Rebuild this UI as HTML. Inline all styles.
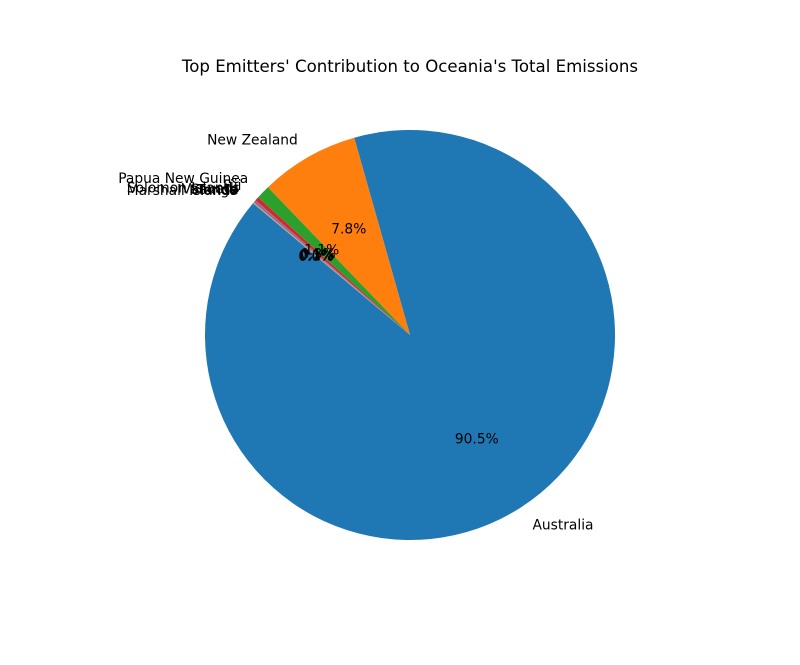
<!DOCTYPE html>
<html><head><meta charset="utf-8">
<style>
html,body{margin:0;padding:0;background:#fff;}
svg{display:block;font-family:"DejaVu Sans","Liberation Sans",sans-serif;}
</style></head>
<body>
<svg id="chart" width="800" height="665" viewBox="0 0 800 665">
<text x="410" y="72" text-anchor="middle" font-size="16.6">Top Emitters' Contribution to Oceania's Total Emissions</text>
<g id="wedges"></g>
<g id="labels"></g>
</svg>
<script>
const categories = ["Australia","New Zealand","Papua New Guinea","Fiji","Solomon Islands","Vanuatu","Samoa","Tonga","Marshall Islands"];
const values = [90.5, 7.8, 1.1, 0.3, 0.1, 0.08, 0.05, 0.04, 0.03];
const colors = ["#1f77b4","#ff7f0e","#2ca02c","#d62728","#9467bd","#8c564b","#e377c2","#7f7f7f","#bcbd22"];
const cx=410, cy=335, R=205, start=140;
const NS="http://www.w3.org/2000/svg";
const total=values.reduce((a,b)=>a+b,0);
const wg=document.getElementById('wedges'), lg=document.getElementById('labels');
function pt(a,r){const t=a*Math.PI/180;return [cx+r*Math.cos(t), cy-r*Math.sin(t)];}
let ang=start;
values.forEach((v,i)=>{
  const sweep=v/total*360, a1=ang, a2=ang+sweep;
  const p1=pt(a1,R), p2=pt(a2,R);
  const path=document.createElementNS(NS,'path');
  path.setAttribute('d',`M${cx},${cy} L${p1[0]},${p1[1]} A${R},${R} 0 ${sweep>180?1:0} 0 ${p2[0]},${p2[1]} Z`);
  path.setAttribute('fill',colors[i%colors.length]);
  
  
  wg.appendChild(path);
  const mid=(a1+a2)/2;
  const lp=pt(mid,1.1*R);
  const t=document.createElementNS(NS,'text');
  t.setAttribute('x',lp[0]); t.setAttribute('y',lp[1]+5);
  t.setAttribute('font-size','13.8');
  t.setAttribute('text-anchor',lp[0]<cx?'end':'start');
  t.textContent=categories[i];
  
  
  lg.appendChild(t);
  const pp=pt(mid,0.6*R);
  const p=document.createElementNS(NS,'text');
  p.setAttribute('x',pp[0]); p.setAttribute('y',pp[1]+5);
  p.setAttribute('font-size','13.8');
  p.setAttribute('text-anchor','middle');
  p.textContent=(v/total*100).toFixed(1)+'%';
  
  
  lg.appendChild(p);
  ang=a2;
});
</script>
</body></html>
